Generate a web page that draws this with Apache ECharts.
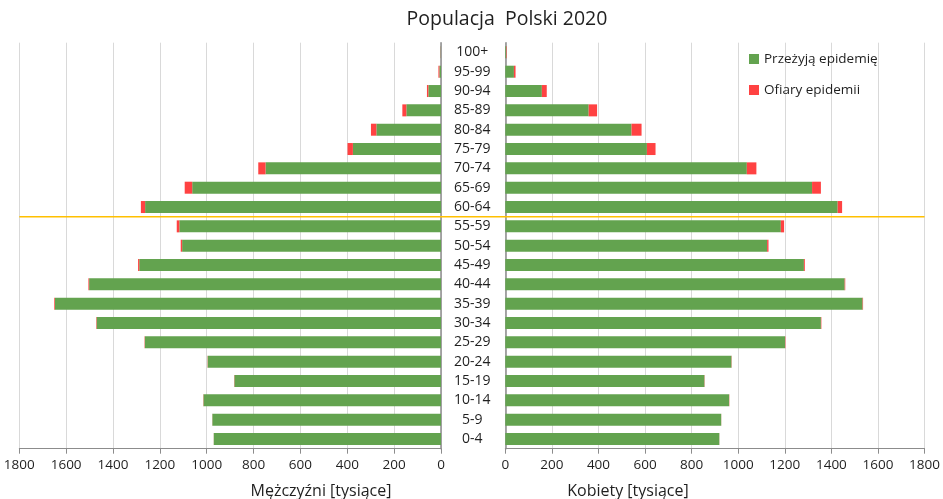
<!DOCTYPE html>
<html>
<head>
<meta charset="utf-8">
<script src="https://cdn.jsdelivr.net/npm/echarts@6/dist/echarts.min.js"></script>
<style>
html,body{margin:0;padding:0;background:#fff;}
#c{width:943px;height:499px;}
</style>
</head>
<body>
<div id="c"></div>
<script>
// Categories bottom -> top
const ageGroups = ['0-4','5-9','10-14','15-19','20-24','25-29','30-34','35-39','40-44','45-49','50-54','55-59','60-64','65-69','70-74','75-79','80-84','85-89','90-94','95-99','100+'];
// Men (thousands)
const menSurvive = [970,976,1014,882,996,1264,1470,1648,1502,1288,1105,1117,1263,1062,749,376,276,148,54,7,1];
const menVictims = [0.3,0.4,1,1,1,1.5,2,3,3,5,6,11,18,32,31,23,23,17,6,4,0.5];
// Women (thousands)
const womenSurvive = [919,927,961,855,971,1201,1355,1534,1457,1282,1124,1183,1427,1317,1037,608,542,358,157,37,4];
const womenVictims = [0.3,0.4,1,1,1,1.5,2,2,2.5,4,6,14,19,38,41,37,43,36,21,7,2];
// Axis ticks
const axisMax = 1800;
const axisInterval = 200;
const thresholdBetween = ['55-59','60-64'];

const GREEN = '#63A34F';
const RED = '#FF4242';
const FONT = 'Open Sans';
const TXT = '#1f1f1f';

const chart = echarts.init(document.getElementById('c'), null, {renderer:'canvas'});

const gridTop = 42.7, gridBottom = 50.3;
const tickFmt = v => String(v);
const option = {
  animation:false,
  textStyle:{fontFamily:FONT},
  title:{
    text:'Populacja  Polski 2020',
    left:502, top:4, textAlign:'center',
    textStyle:{fontFamily:FONT,fontSize:19.5,fontWeight:'normal',color:TXT}
  },
  legend:{
    orient:'vertical',
    left:744, top:47,
    itemWidth:10, itemHeight:10, itemGap:17,
    icon:'rect',
    textStyle:{fontFamily:FONT,fontSize:13.5,color:TXT},
    data:['Przeżyją epidemię','Ofiary epidemii']
  },
  grid:[
    {left:19.3, right:502, top:gridTop, bottom:gridBottom},
    {left:505.3, right:17, top:gridTop, bottom:gridBottom}
  ],
  xAxis:[
    {gridIndex:0,type:'value',inverse:true,min:0,max:axisMax,interval:axisInterval,
     axisLine:{show:true,lineStyle:{color:'#8c8c8c'}},
     axisTick:{show:true,length:5,lineStyle:{color:'#8c8c8c'}},
     axisLabel:{fontFamily:FONT,fontSize:13.5,color:TXT,margin:9,formatter:tickFmt},
     splitLine:{show:true,lineStyle:{color:'#d9d9d9'}}},
    {gridIndex:1,type:'value',min:0,max:axisMax,interval:axisInterval,
     axisLine:{show:true,lineStyle:{color:'#8c8c8c'}},
     axisTick:{show:true,length:5,lineStyle:{color:'#8c8c8c'}},
     axisLabel:{fontFamily:FONT,fontSize:13.5,color:TXT,margin:9,formatter:tickFmt},
     splitLine:{show:true,lineStyle:{color:'#d9d9d9'}}}
  ],
  yAxis:[
    {gridIndex:0,type:'category',data:ageGroups,position:'right',
     axisLine:{show:true,lineStyle:{color:'#8c8c8c',width:1.5}},
     axisTick:{show:false},axisLabel:{show:false}},
    {gridIndex:1,type:'category',data:ageGroups,position:'left',
     axisLine:{show:true,lineStyle:{color:'#8c8c8c',width:1.5}},
     axisTick:{show:false},
     axisLabel:{show:true,fontFamily:FONT,fontSize:14,color:TXT,align:'center',margin:33}}
  ],
  series:[
    {name:'Przeżyją epidemię',type:'bar',xAxisIndex:0,yAxisIndex:0,stack:'m',data:menSurvive,barWidth:12,itemStyle:{color:GREEN}},
    {name:'Ofiary epidemii',type:'bar',xAxisIndex:0,yAxisIndex:0,stack:'m',data:menVictims,barWidth:12,itemStyle:{color:RED}},
    {name:'Przeżyją epidemię',type:'bar',xAxisIndex:1,yAxisIndex:1,stack:'f',data:womenSurvive,barWidth:12,itemStyle:{color:GREEN}},
    {name:'Ofiary epidemii',type:'bar',xAxisIndex:1,yAxisIndex:1,stack:'f',data:womenVictims,barWidth:12,itemStyle:{color:RED}}
  ]
};
chart.setOption(option);

// threshold line between two age groups, and axis names, positioned via library scales
const yA = chart.convertToPixel({yAxisIndex:0}, thresholdBetween[0]);
const yB = chart.convertToPixel({yAxisIndex:0}, thresholdBetween[1]);
const yLine = (yA + yB) / 2;
const xL = chart.convertToPixel({xAxisIndex:0}, axisMax);
const xR = chart.convertToPixel({xAxisIndex:1}, axisMax);
chart.setOption({
  graphic:[
    {type:'line',shape:{x1:xL,y1:yLine,x2:xR,y2:yLine},style:{stroke:'#FFC000',lineWidth:1.5},z:10},
    {type:'text',x:321,y:491,style:{text:'Mężczyźni [tysiące]',fontFamily:FONT,fontSize:16,fill:TXT,textAlign:'center',textVerticalAlign:'middle'}},
    {type:'text',x:628,y:491,style:{text:'Kobiety [tysiące]',fontFamily:FONT,fontSize:16,fill:TXT,textAlign:'center',textVerticalAlign:'middle'}}
  ]
});
</script>
</body>
</html>
